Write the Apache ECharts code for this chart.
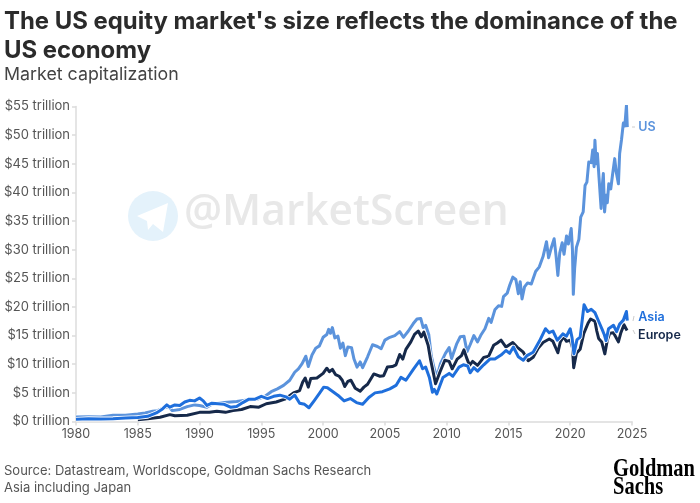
<!DOCTYPE html>
<html><head><meta charset="utf-8">
<style>html,body{margin:0;padding:0;background:#fff}#c{width:700px;height:503px}</style>
<script src="https://cdn.jsdelivr.net/npm/echarts@6/dist/echarts.min.js"></script>
</head><body><div id="c"></div>
<script>
const yearTicks = [1980,1985,1990,1995,2000,2005,2010,2015,2020,2025];
const usData = [[1980,0.8],[1981,0.85],[1982,0.8],[1983,1.1],[1984,1.1],[1985,1.3],[1985.6,1.5],[1986.2,1.8],[1986.6,1.9],[1987,2.3],[1987.5,2.6],[1987.8,1.9],[1988.4,2.1],[1989,2.6],[1989.6,2.9],[1990,2.8],[1990.6,2.5],[1991,3.0],[1992,3.3],[1993,3.5],[1994,3.8],[1994.7,3.9],[1995.3,4.4],[1995.8,5.2],[1996.3,5.7],[1996.8,6.3],[1997.3,7.2],[1997.7,8.6],[1998,9.2],[1998.3,10.1],[1998.6,11.4],[1998.8,9.6],[1999.1,11.6],[1999.4,12.8],[1999.7,13.2],[2000,14.7],[2000.3,15.2],[2000.45,16.1],[2000.6,15.4],[2000.75,16.4],[2000.95,14.6],[2001.2,14.9],[2001.4,12.8],[2001.6,13.7],[2001.8,11.5],[2002,13.0],[2002.3,12.9],[2002.5,10.9],[2002.75,9.5],[2003,10.4],[2003.2,9.4],[2003.6,11.3],[2004,13.4],[2004.4,13.1],[2004.7,12.7],[2005,14.2],[2005.4,14.7],[2005.8,15.0],[2006.2,15.7],[2006.5,14.7],[2006.9,15.8],[2007.3,17.1],[2007.6,17.9],[2007.9,18.0],[2008.1,16.4],[2008.3,16.8],[2008.55,15.2],[2008.75,11.5],[2008.95,9.6],[2009.2,7.7],[2009.5,10.1],[2009.9,11.9],[2010.2,12.9],[2010.4,11.0],[2010.8,13.5],[2011.1,14.8],[2011.4,14.9],[2011.65,12.2],[2011.9,13.4],[2012.2,15.0],[2012.5,13.9],[2012.8,15.2],[2013.1,16.2],[2013.4,18.0],[2013.6,17.3],[2013.9,19.5],[2014.2,20.2],[2014.45,20.1],[2014.6,21.8],[2014.9,22.4],[2015.1,23.8],[2015.35,25.2],[2015.6,24.8],[2015.8,22.3],[2015.95,24.4],[2016.1,21.4],[2016.3,23.5],[2016.55,24.2],[2016.85,24.0],[2017.2,26.2],[2017.5,27.0],[2017.8,28.8],[2018.08,31.4],[2018.25,28.6],[2018.45,30.2],[2018.7,31.9],[2018.85,29.0],[2019,25.5],[2019.15,29.4],[2019.35,31.2],[2019.5,29.2],[2019.7,32.4],[2019.85,31.0],[2020.08,33.7],[2020.18,30.0],[2020.25,22.2],[2020.36,26.8],[2020.5,30.4],[2020.7,31.8],[2020.85,35.7],[2021.05,36.6],[2021.2,41.2],[2021.35,41.8],[2021.5,45.3],[2021.7,45.2],[2021.82,47.4],[2021.93,44.5],[2022,49.1],[2022.1,45.0],[2022.2,46.8],[2022.33,42.6],[2022.42,42.9],[2022.5,37.2],[2022.58,40.8],[2022.68,43.3],[2022.78,36.6],[2022.9,39.5],[2023,38.2],[2023.12,41.5],[2023.28,40.6],[2023.42,43.0],[2023.6,45.9],[2023.72,43.6],[2023.9,41.5],[2024,46.8],[2024.15,49.2],[2024.3,52.1],[2024.42,51.6],[2024.55,55.2],[2024.62,51.4]];
const europeData = [[1985,0.3],[1985.8,0.5],[1986.8,0.75],[1987.6,1.2],[1988,1.0],[1989,1.1],[1990,1.6],[1990.8,1.6],[1991.4,1.8],[1992.1,1.6],[1992.7,1.9],[1993.4,2.1],[1994.1,2.6],[1994.8,2.5],[1995.4,3.1],[1996.2,3.4],[1996.9,3.9],[1997.6,5.0],[1998.1,5.4],[1998.35,6.9],[1998.55,7.6],[1998.8,6.0],[1999,7.5],[1999.5,7.6],[2000,8.4],[2000.3,9.3],[2000.5,8.7],[2000.75,9.1],[2001,8.2],[2001.3,7.9],[2001.55,7.2],[2001.75,6.1],[2002,7.0],[2002.25,7.2],[2002.6,5.8],[2003,5.3],[2003.3,6.0],[2003.6,6.5],[2004.1,8.3],[2004.6,7.9],[2004.9,8.0],[2005.2,9.5],[2005.6,9.6],[2005.9,9.9],[2006.2,11.7],[2006.45,10.9],[2006.7,12.6],[2007.1,13.9],[2007.4,15.2],[2007.7,15.8],[2007.95,14.8],[2008.15,15.6],[2008.5,13.3],[2008.7,10.8],[2008.9,8.7],[2009.1,6.6],[2009.45,8.6],[2009.85,10.7],[2010.2,10.5],[2010.45,9.2],[2010.85,10.9],[2011.2,11.5],[2011.4,12.5],[2011.6,11.2],[2011.85,9.8],[2012.1,10.5],[2012.5,9.8],[2013,11.2],[2013.4,11.4],[2013.8,13.3],[2014.1,13.7],[2014.4,14.2],[2014.8,13.0],[2015.35,13.8],[2015.7,13.0],[2016.2,12.1],[2016.6,10.6],[2017,11.2],[2017.4,12.8],[2017.8,13.8],[2018.3,14.4],[2018.6,14.0],[2019,12.0],[2019.2,13.9],[2019.45,14.8],[2019.7,14.0],[2020,14.2],[2020.18,12.9],[2020.28,9.4],[2020.5,11.9],[2020.8,12.6],[2021.1,15.4],[2021.45,17.2],[2021.65,17.9],[2022,17.5],[2022.15,15.8],[2022.3,14.5],[2022.55,13.9],[2022.8,11.8],[2023,14.2],[2023.2,15.4],[2023.5,15.5],[2023.9,13.9],[2024.1,15.5],[2024.35,16.9],[2024.6,15.9]];
const asiaData = [[1980,0.4],[1981,0.5],[1982,0.45],[1983,0.5],[1984,0.6],[1985,0.7],[1985.8,0.9],[1986.5,1.5],[1987,2.2],[1987.35,2.9],[1987.6,2.5],[1988,2.9],[1988.4,2.8],[1988.8,3.4],[1989.2,3.7],[1989.6,3.6],[1990,4.1],[1990.3,3.6],[1990.6,2.8],[1991,3.2],[1991.5,3.1],[1992,3.0],[1992.5,2.5],[1993,2.6],[1993.5,3.3],[1994,3.9],[1994.5,3.9],[1995,4.4],[1995.5,4.0],[1996,4.4],[1996.5,4.6],[1997,4.3],[1997.3,3.9],[1997.7,4.6],[1998.1,3.2],[1998.5,3.0],[1998.85,2.4],[1999.3,3.7],[1999.7,4.9],[2000.05,6.0],[2000.35,5.9],[2000.8,5.2],[2001.3,4.4],[2001.7,3.6],[2002.2,4.0],[2002.7,3.3],[2003.2,3.0],[2003.7,4.2],[2004.2,5.0],[2004.8,5.2],[2005.4,5.7],[2005.9,6.3],[2006.3,7.7],[2006.7,7.2],[2007.3,9.1],[2007.8,10.6],[2008.05,9.2],[2008.3,9.5],[2008.6,7.7],[2008.85,5.1],[2009.0,5.6],[2009.2,4.8],[2009.7,7.7],[2010.2,8.4],[2010.5,7.9],[2011,9.5],[2011.35,9.9],[2011.7,9.7],[2011.9,8.5],[2012.2,9.4],[2012.5,8.8],[2013,9.9],[2013.5,10.9],[2013.9,10.9],[2014.4,11.6],[2014.8,12.4],[2015.1,11.9],[2015.4,13.0],[2015.8,11.3],[2016.2,10.7],[2016.5,11.5],[2017,12.1],[2017.5,14.0],[2018,16.2],[2018.3,15.5],[2018.6,15.8],[2018.95,14.2],[2019.4,15.3],[2019.7,14.9],[2020,16.2],[2020.15,14.6],[2020.3,11.8],[2020.55,14.3],[2020.8,14.7],[2021,18.2],[2021.12,20.4],[2021.4,19.2],[2021.7,19.6],[2022,19.0],[2022.3,17.5],[2022.6,16.0],[2022.75,15.2],[2022.9,14.1],[2023.1,16.2],[2023.5,16.8],[2023.75,15.7],[2024,17.0],[2024.3,17.7],[2024.55,19.2],[2024.62,17.6]];
const seriesNames = ['US','Europe','Asia'];
const seriesColors = ['#5b93dc','#16294a','#1f6fdc'];
const subtitle = 'Market capitalization';
const titleLines = "The US equity market's size reflects the dominance of the\nUS economy";
const sourceLines = 'Source: Datastream, Worldscope, Goldman Sachs Research\nAsia including Japan';

const chart = echarts.init(document.getElementById('c'), null, {renderer:'canvas'});
const base = 'Inter';
const mk = (name, data, color, offset) => [
  {type:'line',data,showSymbol:false,silent:true,z:3,lineStyle:{color:'#fff',width:4.6,join:'round'},animation:false},
  {type:'line',name,data,showSymbol:false,silent:true,z:3,lineStyle:{color,width:3,join:'round'},animation:false,
   endLabel:{show:true,formatter:name,color,fontFamily:base,fontSize:12.5,fontWeight:600,offset}}
];
chart.setOption({
  animation:false,
  backgroundColor:'#fff',
  grid:{left:76,right:68,top:106.5,bottom:81.5,containLabel:false},
  xAxis:{type:'value',min:1980,max:2025,interval:5,
    axisLine:{show:true,lineStyle:{color:'#dcdcdc',width:1.5}},
    axisTick:{show:true,length:4,lineStyle:{color:'#dcdcdc',width:1.5}},
    splitLine:{show:false},
    axisLabel:{color:'#555',fontFamily:base,fontSize:12.5,margin:6,formatter:v=>yearTicks.includes(v)?String(v):''}},
  yAxis:{type:'value',min:0,max:55,interval:5,
    axisLine:{show:true,lineStyle:{color:'#dcdcdc',width:1.5}},
    axisTick:{show:true,length:4,lineStyle:{color:'#dcdcdc',width:1.5}},
    splitLine:{show:false},
    axisLabel:{color:'#555',fontFamily:base,fontSize:13,margin:6,formatter:v=>'$'+v+' trillion'}},
  series:[...mk(seriesNames[0],usData,seriesColors[0],[3,0]),
          ...mk(seriesNames[1],europeData,seriesColors[1],[3,5]),
          ...mk(seriesNames[2],asiaData,seriesColors[2],[3,-3])],
  graphic:[
    {type:'text',left:4,top:7,style:{text:titleLines,fill:'#2b2b2b',font:'700 23.9px Inter',lineHeight:29}},
    {type:'text',left:4,top:66,style:{text:subtitle,fill:'#444',font:'400 17.8px Inter'}},
    {type:'text',left:4,top:463,style:{text:sourceLines,fill:'#555',font:'400 13px Inter',lineHeight:17}},
    {type:'text',x:613,y:457,scaleX:0.82,style:{text:'Goldman',fill:'#000',font:'700 25px "Liberation Serif"'}},
    {type:'text',x:613,y:475,scaleX:0.82,style:{text:'Sachs',fill:'#000',font:'700 25px "Liberation Serif"'}},
    {type:'circle',shape:{cx:153,cy:216,r:25},style:{fill:'#e4f2fb'},z:-1},
    {type:'polygon',shape:{points:[[137,216],[168,203],[163,232],[153,224],[148,230],[147,221]]},style:{fill:'#fff'},z:-1},
    {type:'text',x:184,y:191,z:-1,style:{text:'@MarketScreen',fill:'#e8e8e8',font:'600 42.5px "Open Sans"'}},
    {type:'line',shape:{x1:632,y1:127,x2:635,y2:127},style:{stroke:'#ccc',lineWidth:1}},
    {type:'line',shape:{x1:633,y1:321,x2:634,y2:316},style:{stroke:'#ccc',lineWidth:1}},
    {type:'line',shape:{x1:633,y1:330,x2:635,y2:334},style:{stroke:'#ccc',lineWidth:1}}
  ]
});
</script></body></html>
